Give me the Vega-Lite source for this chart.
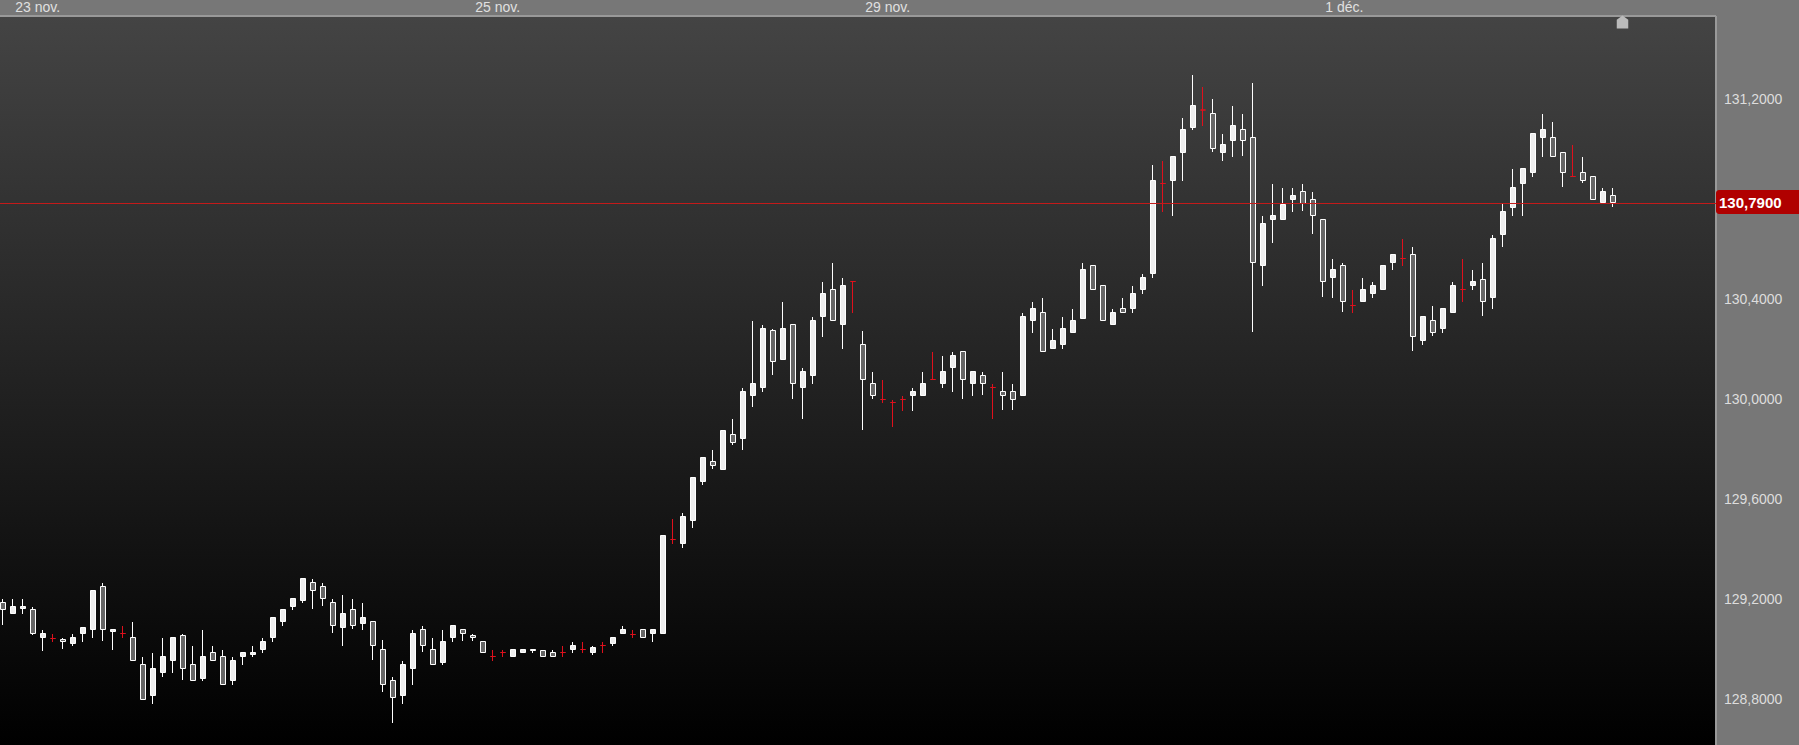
{"$schema":"https://vega.github.io/schema/vega-lite/v6.json","width":1716,"height":729,"autosize":"none","padding":{"left":0,"top":16,"right":83,"bottom":0},"background":"#777777","config":{"view":{"stroke":null},"axis":{"translate":0}},"view":{"stroke":null,"fill":{"gradient":"linear","x1":0,"y1":0,"x2":0,"y2":1,"stops":[{"offset":0,"color":"#444444"},{"offset":1,"color":"#000000"}]}},"datasets":{"candles":[
{"i":0,"o":129.162,"h":129.204,"l":129.1,"c":129.19,"d":"up"},
{"i":1,"o":129.174,"h":129.204,"l":129.144,"c":129.146,"d":"down"},
{"i":2,"o":129.174,"h":129.204,"l":129.144,"c":129.166,"d":"down"},
{"i":3,"o":129.066,"h":129.172,"l":129.06,"c":129.162,"d":"up"},
{"i":4,"o":129.066,"h":129.08,"l":128.996,"c":129.05,"d":"down"},
{"i":5,"o":129.046,"h":129.064,"l":129.032,"c":129.046,"d":"flat"},
{"i":6,"o":129.034,"h":129.048,"l":129.004,"c":129.042,"d":"up"},
{"i":7,"o":129.05,"h":129.064,"l":129.016,"c":129.026,"d":"down"},
{"i":8,"o":129.09,"h":129.092,"l":129.032,"c":129.066,"d":"down"},
{"i":9,"o":129.238,"h":129.24,"l":129.048,"c":129.082,"d":"down"},
{"i":10,"o":129.082,"h":129.268,"l":129.036,"c":129.254,"d":"up"},
{"i":11,"o":129.082,"h":129.084,"l":129,"c":129.074,"d":"down"},
{"i":12,"o":129.066,"h":129.096,"l":129.048,"c":129.066,"d":"flat"},
{"i":13,"o":128.958,"h":129.112,"l":128.956,"c":129.05,"d":"up"},
{"i":14,"o":128.802,"h":128.972,"l":128.8,"c":128.942,"d":"up"},
{"i":15,"o":128.926,"h":128.988,"l":128.784,"c":128.818,"d":"down"},
{"i":16,"o":128.974,"h":129.048,"l":128.892,"c":128.91,"d":"down"},
{"i":17,"o":129.05,"h":129.052,"l":128.908,"c":128.958,"d":"down"},
{"i":18,"o":128.926,"h":129.064,"l":128.88,"c":129.058,"d":"up"},
{"i":19,"o":128.878,"h":129.016,"l":128.876,"c":128.942,"d":"up"},
{"i":20,"o":128.974,"h":129.08,"l":128.876,"c":128.886,"d":"down"},
{"i":21,"o":128.958,"h":129.016,"l":128.956,"c":128.99,"d":"up"},
{"i":22,"o":128.862,"h":129,"l":128.86,"c":128.974,"d":"up"},
{"i":23,"o":128.958,"h":128.972,"l":128.86,"c":128.878,"d":"down"},
{"i":24,"o":128.99,"h":128.992,"l":128.94,"c":128.974,"d":"down"},
{"i":25,"o":128.99,"h":129.016,"l":128.972,"c":128.982,"d":"down"},
{"i":26,"o":129.034,"h":129.048,"l":128.988,"c":129.002,"d":"down"},
{"i":27,"o":129.13,"h":129.132,"l":129.032,"c":129.05,"d":"down"},
{"i":28,"o":129.162,"h":129.164,"l":129.096,"c":129.114,"d":"down"},
{"i":29,"o":129.206,"h":129.208,"l":129.16,"c":129.174,"d":"down"},
{"i":30,"o":129.286,"h":129.288,"l":129.188,"c":129.198,"d":"down"},
{"i":31,"o":129.238,"h":129.284,"l":129.164,"c":129.27,"d":"up"},
{"i":32,"o":129.206,"h":129.268,"l":129.176,"c":129.254,"d":"up"},
{"i":33,"o":129.098,"h":129.204,"l":129.068,"c":129.19,"d":"up"},
{"i":34,"o":129.146,"h":129.22,"l":129.016,"c":129.09,"d":"down"},
{"i":35,"o":129.098,"h":129.204,"l":129.084,"c":129.162,"d":"up"},
{"i":36,"o":129.13,"h":129.188,"l":129.08,"c":129.106,"d":"down"},
{"i":37,"o":129.018,"h":129.116,"l":128.96,"c":129.114,"d":"up"},
{"i":38,"o":128.862,"h":129.04,"l":128.832,"c":129.002,"d":"up"},
{"i":39,"o":128.81,"h":128.892,"l":128.708,"c":128.878,"d":"up"},
{"i":40,"o":128.942,"h":128.956,"l":128.784,"c":128.818,"d":"down"},
{"i":41,"o":129.066,"h":129.08,"l":128.86,"c":128.926,"d":"down"},
{"i":42,"o":129.018,"h":129.096,"l":128.992,"c":129.082,"d":"up"},
{"i":43,"o":128.942,"h":129.048,"l":128.94,"c":129.002,"d":"up"},
{"i":44,"o":129.034,"h":129.08,"l":128.94,"c":128.95,"d":"down"},
{"i":45,"o":129.098,"h":129.1,"l":129.032,"c":129.05,"d":"down"},
{"i":46,"o":129.066,"h":129.084,"l":129.036,"c":129.082,"d":"up"},
{"i":47,"o":129.05,"h":129.064,"l":129.036,"c":129.058,"d":"up"},
{"i":48,"o":128.99,"h":129.036,"l":128.988,"c":129.034,"d":"up"},
{"i":49,"o":128.974,"h":129,"l":128.956,"c":128.974,"d":"flat"},
{"i":50,"o":128.99,"h":129,"l":128.972,"c":128.99,"d":"flat"},
{"i":51,"o":129.002,"h":129.004,"l":128.972,"c":128.974,"d":"down"},
{"i":52,"o":129.002,"h":129.004,"l":128.988,"c":128.99,"d":"down"},
{"i":53,"o":129.002,"h":129.004,"l":128.988,"c":128.998,"d":"down"},
{"i":54,"o":128.974,"h":129,"l":128.972,"c":128.998,"d":"up"},
{"i":55,"o":128.974,"h":129,"l":128.972,"c":128.99,"d":"up"},
{"i":56,"o":128.99,"h":129.016,"l":128.972,"c":128.99,"d":"flat"},
{"i":57,"o":129.018,"h":129.032,"l":128.988,"c":129.002,"d":"down"},
{"i":58,"o":129.002,"h":129.032,"l":128.988,"c":129.002,"d":"flat"},
{"i":59,"o":129.01,"h":129.016,"l":128.98,"c":128.99,"d":"down"},
{"i":60,"o":129.018,"h":129.032,"l":128.988,"c":129.018,"d":"flat"},
{"i":61,"o":129.05,"h":129.052,"l":129.016,"c":129.026,"d":"down"},
{"i":62,"o":129.082,"h":129.096,"l":129.064,"c":129.066,"d":"down"},
{"i":63,"o":129.062,"h":129.08,"l":129.048,"c":129.062,"d":"flat"},
{"i":64,"o":129.05,"h":129.084,"l":129.048,"c":129.082,"d":"up"},
{"i":65,"o":129.082,"h":129.084,"l":129.032,"c":129.066,"d":"down"},
{"i":66,"o":129.458,"h":129.46,"l":129.064,"c":129.066,"d":"down"},
{"i":67,"o":129.442,"h":129.524,"l":129.424,"c":129.442,"d":"flat"},
{"i":68,"o":129.534,"h":129.548,"l":129.408,"c":129.426,"d":"down"},
{"i":69,"o":129.69,"h":129.692,"l":129.488,"c":129.518,"d":"down"},
{"i":70,"o":129.77,"h":129.772,"l":129.66,"c":129.674,"d":"down"},
{"i":71,"o":129.738,"h":129.8,"l":129.724,"c":129.754,"d":"up"},
{"i":72,"o":129.878,"h":129.88,"l":129.72,"c":129.722,"d":"down"},
{"i":73,"o":129.83,"h":129.924,"l":129.82,"c":129.862,"d":"up"},
{"i":74,"o":130.034,"h":130.048,"l":129.8,"c":129.846,"d":"down"},
{"i":75,"o":130.066,"h":130.316,"l":129.972,"c":130.018,"d":"down"},
{"i":76,"o":130.286,"h":130.3,"l":130.032,"c":130.05,"d":"down"},
{"i":77,"o":130.154,"h":130.284,"l":130.1,"c":130.278,"d":"up"},
{"i":78,"o":130.286,"h":130.392,"l":130.16,"c":130.162,"d":"down"},
{"i":79,"o":130.066,"h":130.304,"l":130.004,"c":130.302,"d":"up"},
{"i":80,"o":130.114,"h":130.128,"l":129.924,"c":130.05,"d":"down"},
{"i":81,"o":130.318,"h":130.332,"l":130.064,"c":130.098,"d":"down"},
{"i":82,"o":130.426,"h":130.472,"l":130.252,"c":130.334,"d":"down"},
{"i":83,"o":130.318,"h":130.548,"l":130.316,"c":130.442,"d":"up"},
{"i":84,"o":130.458,"h":130.488,"l":130.204,"c":130.302,"d":"down"},
{"i":85,"o":130.474,"h":130.476,"l":130.348,"c":130.474,"d":"flat"},
{"i":86,"o":130.082,"h":130.276,"l":129.88,"c":130.222,"d":"up"},
{"i":87,"o":130.018,"h":130.112,"l":130.004,"c":130.066,"d":"up"},
{"i":88,"o":130.002,"h":130.08,"l":129.988,"c":130.002,"d":"flat"},
{"i":89,"o":129.99,"h":130,"l":129.892,"c":129.99,"d":"flat"},
{"i":90,"o":130.002,"h":130.016,"l":129.956,"c":130.002,"d":"flat"},
{"i":91,"o":130.034,"h":130.048,"l":129.956,"c":130.018,"d":"down"},
{"i":92,"o":130.066,"h":130.112,"l":130.016,"c":130.018,"d":"down"},
{"i":93,"o":130.082,"h":130.192,"l":130.08,"c":130.082,"d":"flat"},
{"i":94,"o":130.114,"h":130.176,"l":130.048,"c":130.066,"d":"down"},
{"i":95,"o":130.178,"h":130.192,"l":130.032,"c":130.13,"d":"down"},
{"i":96,"o":130.082,"h":130.196,"l":130.004,"c":130.194,"d":"up"},
{"i":97,"o":130.114,"h":130.116,"l":130.016,"c":130.066,"d":"down"},
{"i":98,"o":130.066,"h":130.112,"l":130.02,"c":130.098,"d":"up"},
{"i":99,"o":130.05,"h":130.064,"l":129.924,"c":130.05,"d":"flat"},
{"i":100,"o":130.018,"h":130.112,"l":129.96,"c":130.034,"d":"up"},
{"i":101,"o":130.002,"h":130.064,"l":129.96,"c":130.034,"d":"up"},
{"i":102,"o":130.334,"h":130.348,"l":130.016,"c":130.018,"d":"down"},
{"i":103,"o":130.366,"h":130.392,"l":130.268,"c":130.318,"d":"down"},
{"i":104,"o":130.194,"h":130.408,"l":130.192,"c":130.35,"d":"up"},
{"i":105,"o":130.238,"h":130.284,"l":130.204,"c":130.206,"d":"down"},
{"i":106,"o":130.286,"h":130.332,"l":130.204,"c":130.222,"d":"down"},
{"i":107,"o":130.318,"h":130.364,"l":130.268,"c":130.27,"d":"down"},
{"i":108,"o":130.522,"h":130.548,"l":130.324,"c":130.326,"d":"down"},
{"i":109,"o":130.442,"h":130.54,"l":130.44,"c":130.538,"d":"up"},
{"i":110,"o":130.318,"h":130.46,"l":130.316,"c":130.458,"d":"up"},
{"i":111,"o":130.35,"h":130.364,"l":130.3,"c":130.302,"d":"down"},
{"i":112,"o":130.35,"h":130.408,"l":130.348,"c":130.366,"d":"up"},
{"i":113,"o":130.426,"h":130.456,"l":130.348,"c":130.366,"d":"down"},
{"i":114,"o":130.49,"h":130.504,"l":130.424,"c":130.442,"d":"down"},
{"i":115,"o":130.878,"h":130.94,"l":130.488,"c":130.506,"d":"down"},
{"i":116,"o":130.866,"h":130.956,"l":130.752,"c":130.866,"d":"flat"},
{"i":117,"o":130.974,"h":130.976,"l":130.736,"c":130.878,"d":"down"},
{"i":118,"o":131.082,"h":131.128,"l":130.876,"c":130.99,"d":"down"},
{"i":119,"o":131.178,"h":131.3,"l":131.08,"c":131.09,"d":"down"},
{"i":120,"o":131.16,"h":131.252,"l":131.096,"c":131.16,"d":"flat"},
{"i":121,"o":131.006,"h":131.204,"l":130.992,"c":131.146,"d":"up"},
{"i":122,"o":131.022,"h":131.064,"l":130.956,"c":130.99,"d":"down"},
{"i":123,"o":131.098,"h":131.176,"l":130.972,"c":131.038,"d":"down"},
{"i":124,"o":131.038,"h":131.144,"l":130.976,"c":131.082,"d":"up"},
{"i":125,"o":130.55,"h":131.268,"l":130.272,"c":131.05,"d":"up"},
{"i":126,"o":130.706,"h":130.736,"l":130.456,"c":130.538,"d":"down"},
{"i":127,"o":130.738,"h":130.864,"l":130.628,"c":130.722,"d":"down"},
{"i":128,"o":130.782,"h":130.848,"l":130.72,"c":130.722,"d":"down"},
{"i":129,"o":130.818,"h":130.848,"l":130.752,"c":130.802,"d":"down"},
{"i":130,"o":130.786,"h":130.864,"l":130.756,"c":130.834,"d":"up"},
{"i":131,"o":130.738,"h":130.832,"l":130.664,"c":130.802,"d":"up"},
{"i":132,"o":130.474,"h":130.724,"l":130.412,"c":130.722,"d":"up"},
{"i":133,"o":130.522,"h":130.564,"l":130.408,"c":130.49,"d":"down"},
{"i":134,"o":130.394,"h":130.548,"l":130.352,"c":130.538,"d":"up"},
{"i":135,"o":130.378,"h":130.44,"l":130.348,"c":130.378,"d":"flat"},
{"i":136,"o":130.442,"h":130.488,"l":130.392,"c":130.394,"d":"down"},
{"i":137,"o":130.458,"h":130.472,"l":130.408,"c":130.426,"d":"down"},
{"i":138,"o":130.538,"h":130.54,"l":130.44,"c":130.442,"d":"down"},
{"i":139,"o":130.582,"h":130.584,"l":130.52,"c":130.55,"d":"down"},
{"i":140,"o":130.566,"h":130.644,"l":130.536,"c":130.566,"d":"flat"},
{"i":141,"o":130.254,"h":130.612,"l":130.196,"c":130.582,"d":"up"},
{"i":142,"o":130.334,"h":130.336,"l":130.22,"c":130.238,"d":"down"},
{"i":143,"o":130.27,"h":130.376,"l":130.256,"c":130.318,"d":"up"},
{"i":144,"o":130.366,"h":130.368,"l":130.268,"c":130.286,"d":"down"},
{"i":145,"o":130.458,"h":130.472,"l":130.348,"c":130.35,"d":"down"},
{"i":146,"o":130.442,"h":130.564,"l":130.392,"c":130.442,"d":"flat"},
{"i":147,"o":130.474,"h":130.52,"l":130.44,"c":130.458,"d":"down"},
{"i":148,"o":130.394,"h":130.548,"l":130.336,"c":130.482,"d":"up"},
{"i":149,"o":130.646,"h":130.66,"l":130.364,"c":130.41,"d":"down"},
{"i":150,"o":130.754,"h":130.784,"l":130.612,"c":130.662,"d":"down"},
{"i":151,"o":130.85,"h":130.924,"l":130.736,"c":130.77,"d":"down"},
{"i":152,"o":130.926,"h":130.928,"l":130.736,"c":130.866,"d":"down"},
{"i":153,"o":131.066,"h":131.068,"l":130.892,"c":130.91,"d":"down"},
{"i":154,"o":131.082,"h":131.144,"l":130.972,"c":131.05,"d":"down"},
{"i":155,"o":130.974,"h":131.112,"l":130.972,"c":131.05,"d":"up"},
{"i":156,"o":130.91,"h":130.992,"l":130.852,"c":130.99,"d":"up"},
{"i":157,"o":130.894,"h":131.02,"l":130.892,"c":130.894,"d":"flat"},
{"i":158,"o":130.878,"h":130.972,"l":130.868,"c":130.91,"d":"up"},
{"i":159,"o":130.802,"h":130.896,"l":130.8,"c":130.894,"d":"up"},
{"i":160,"o":130.834,"h":130.848,"l":130.788,"c":130.79,"d":"down"},
{"i":161,"o":130.79,"h":130.848,"l":130.772,"c":130.818,"d":"up"}
]},"layer":[
{"data":{"name":"candles"},"mark":{"type":"rule","strokeWidth":1},"encoding":{
"x":{"field":"i","type":"quantitative","scale":{"domain":[-0.25,171.35],"nice":false,"zero":false,"padding":0},"axis":{"orient":"top","title":null,"grid":false,"ticks":false,"domain":true,"domainColor":"#999999","domainWidth":2,"values":[1,47,86,132],"labelExpr":"datum.value==1?'23 nov.':datum.value==47?'25 nov.':datum.value==86?'29 nov.':'1 déc.'","labelAlign":"left","labelBaseline":"bottom","labelPadding":1.5,"labelOffset":2.8,"labelFont":"Liberation Sans","labelFontSize":14,"labelColor":"#e0e0e0","labelOverlap":false,"labelFlush":false,"labelBound":false,"translate":0}},
"y":{"field":"l","type":"quantitative","scale":{"domain":[128.62,131.536],"nice":false,"zero":false},"axis":{"orient":"right","title":null,"grid":false,"ticks":false,"domain":true,"domainColor":"#999999","domainWidth":2,"values":[128.8,129.2,129.6,130,130.4,131.2],"labelExpr":"replace(format(datum.value,'.4f'),'.',',')","labelFont":"Liberation Sans","labelFontSize":14,"labelColor":"#dddddd","labelPadding":8,"labelOverlap":false,"labelFlush":false,"labelBound":false,"translate":0}},
"y2":{"field":"h"},
"stroke":{"field":"d","type":"nominal","scale":{"domain":["up","down","flat"],"range":["#ffffff","#ffffff","#e0101c"]},"legend":null}}},
{"data":{"name":"candles"},"mark":{"type":"bar","size":5,"strokeWidth":1,"xOffset":0.5},"encoding":{
"x":{"field":"i","type":"quantitative","scale":{"padding":0}},
"y":{"field":"o","type":"quantitative"},
"y2":{"field":"c"},
"fill":{"field":"d","type":"nominal","scale":{"domain":["up","down","flat"],"range":["#666666","#eeeeee","#e0101c"]},"legend":null},
"stroke":{"field":"d","type":"nominal","legend":null}}},
{"data":{"values":[{"price":130.786}]},"mark":{"type":"rule","strokeWidth":1,"stroke":"#c41a1a"},"encoding":{"y":{"field":"price","type":"quantitative"}}},
{"data":{"values":[{"a":171.35,"b":181,"top":130.84,"bot":130.744}]},"mark":{"type":"rect","fill":"#b00000","cornerRadius":3},"encoding":{"x":{"field":"a","type":"quantitative"},"x2":{"field":"b"},"y":{"field":"top","type":"quantitative"},"y2":{"field":"bot"}}},
{"data":{"values":[{"a":171.65,"price":130.788,"label":"130,7900"}]},"mark":{"type":"text","align":"left","baseline":"middle","font":"Liberation Sans","fontSize":15,"fontWeight":"bold","fill":"#ffffff"},"encoding":{"x":{"field":"a","type":"quantitative"},"y":{"field":"price","type":"quantitative"},"text":{"field":"label"}}},
{"data":{"values":[{"i":162,"p":131.512}]},"mark":{"type":"point","filled":true,"fill":"#bbbbbb","opacity":1,"stroke":null,"size":132,"shape":"M0,-1.13L1,-0.4L1,1.13L-1,1.13L-1,-0.4Z"},"encoding":{"x":{"field":"i","type":"quantitative"},"y":{"field":"p","type":"quantitative"}}}
]}
